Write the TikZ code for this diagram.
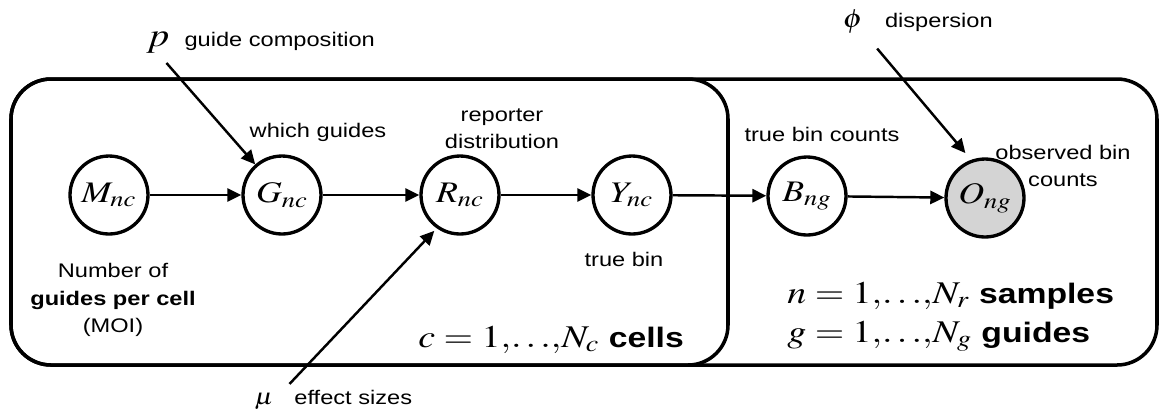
\documentclass[tikz,border=0pt]{standalone}
\usepackage{mathptmx}
\usepackage[no-math]{fontspec}
\setmainfont[FakeStretch=1.2]{Liberation Sans}
\usepackage{graphicx}
\usetikzlibrary{arrows.meta, positioning}
\definecolor{mObsGray}{HTML}{D4D4D4}
\newcommand{\wm}[1]{\scalebox{1.2}[1]{$#1$}}
\newcommand{\lblsize}{\fontsize{11.2}{15.5}\selectfont}
\newcommand{\platesize}{\fontsize{16}{19}\selectfont}
\newcommand{\platemath}[1]{{\fontsize{18}{21}\selectfont\wm{#1}}}

\begin{document}
\begin{tikzpicture}[x=0.02cm, y=-0.02cm,
    var/.style={draw, circle, line width=1.9pt, minimum size=1.56cm, inner sep=0pt, font=\fontsize{17}{20}\selectfont},
    obs/.style={var, fill=mObsGray},
    plate/.style={draw, line width=2pt, rounded corners=0.8cm},
    arr/.style={-{Triangle[length=8pt,width=7.5pt]}, line width=1.4pt},
    lbl/.style={font=\lblsize, align=center, inner sep=0pt},
    platelbl/.style={font=\platesize, anchor=base west, inner sep=0pt}]
    \useasboundingbox (0,0) rectangle (1161,417);

    % plates
    \draw[plate] (11,79) rectangle (1157,365);
    \draw[plate] (11,79) rectangle (728,365);

    % latent and observed variables
    \node[var] (M) at (109,195) {\wm{M_{nc}}};
    \node[var] (G) at (282,195) {\wm{G_{nc}}};
    \node[var] (R) at (460,195) {\wm{R_{nc}}};
    \node[var] (Y) at (632,195) {\wm{Y_{nc}}};
    \node[var] (B) at (807,196) {\wm{B_{ng}}};
    \node[obs] (O) at (985,198) {\wm{O_{ng}}};

    % parameters
    \node[anchor=base, font=\fontsize{19}{22}\selectfont] (p) at (158,46) {\wm{p}};
    \node[lbl, base right=0.17cm of p] (pTxt) {guide composition};
    \node[anchor=base, font=\fontsize{15}{18}\selectfont] (phi) at (853,27) {\wm{\phi}};
    \node[lbl, base right=0.31cm of phi] (phiTxt) {dispersion};
    \node[anchor=base, font=\fontsize{13}{16}\selectfont] (mu) at (264,404) {\wm{\mu}};
    \node[lbl, base right=0.29cm of mu] (muTxt) {effect sizes};

    % labels
    \node[lbl, anchor=base] (whichTxt) at (318,137) {which guides};
    \node[lbl] (repTxt) at (502,129) {reporter\\distribution};
    \node[lbl, anchor=base] (binTxt) at (624,266) {true bin};
    \node[lbl, anchor=base] (countTxt) at (822,141) {true bin counts};
    \node[lbl] (obsTxt) at (1063,166) {observed bin\\counts};
    \node[lbl] (moiTxt) at (113,300) {Number of\\\textbf{guides per cell}\\(MOI)};

    % plate labels
    \node[platelbl] (cellTxt) at (418,347) {\platemath{c = 1,\!\ldots\!,\!N_c}~\textbf{cells}};
    \node[platelbl] (sampTxt) at (787,303) {\platemath{n = 1,\!\ldots\!,\!N_r}~\textbf{samples}};
    \node[platelbl] (guideTxt) at (787,342) {\platemath{g = 1,\!\ldots\!,\!N_g}~\textbf{guides}};

    % edges
    \draw[arr] (M) -- (G);
    \draw[arr] (G) -- (R);
    \draw[arr] (R) -- (Y);
    \draw[arr] (Y) -- (B);
    \draw[arr] (B) -- (O);
    \draw[arr, shorten <=3pt] ([xshift=0.1cm]p.south) -- (G);
    \draw[arr, shorten <=7pt, shorten >=5pt] (phi.south east) -- (O.110);
    \draw[arr, shorten <=2pt, shorten >=2pt] ([xshift=0.15cm]mu.north east) -- (R.235);
\end{tikzpicture}
\end{document}
